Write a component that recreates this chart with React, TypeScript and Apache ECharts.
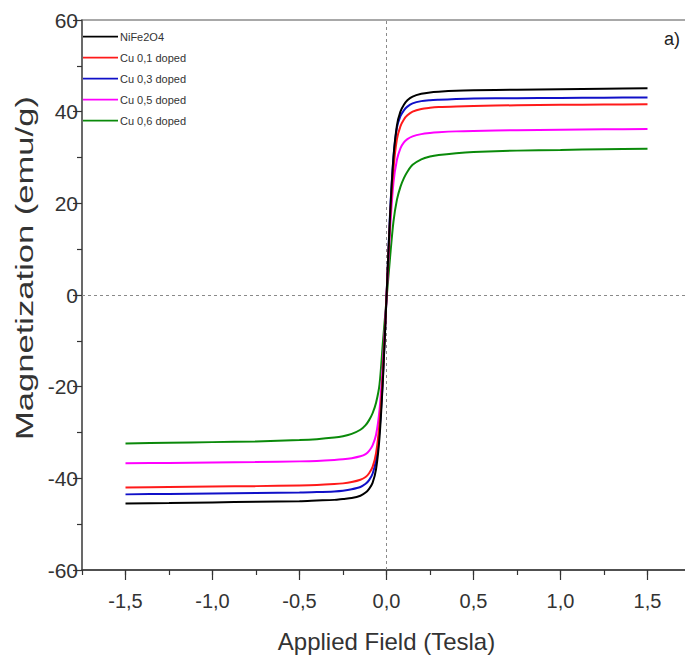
import React, { useEffect, useRef } from "react";
import * as echarts from "echarts";

const fields = [-1.5, -1.25, -1.0, -0.75, -0.5, -0.4, -0.3, -0.25, -0.2, -0.15, -0.12, -0.1, -0.08, -0.06, -0.04, -0.02, 0, 0.02, 0.04, 0.06, 0.08, 0.1, 0.12, 0.15, 0.2, 0.25, 0.3, 0.4, 0.5, 0.75, 1.0, 1.25, 1.5];

const seriesNames = ["NiFe2O4", "Cu 0,1 doped", "Cu 0,3 doped", "Cu 0,5 doped", "Cu 0,6 doped"];
const seriesColors = ["#000000", "#ff1a1a", "#1010c8", "#ff00ff", "#0a8a0a"];

const niFe2O4 = [-45.5, -45.4, -45.25, -45.1, -45.0, -44.85, -44.7, -44.5, -44.3, -43.8, -43.1, -42.3, -41.0, -38.0, -31.0, -18.0, -0.5, 17.0, 30.0, 37.0, 40.0, 41.5, 42.5, 43.3, 43.9, 44.2, 44.35, 44.55, 44.65, 44.8, 44.9, 45.0, 45.1];
const cu01 = [-42.0, -41.9, -41.8, -41.7, -41.55, -41.45, -41.25, -41.1, -40.8, -40.3, -39.7, -38.9, -37.5, -34.5, -28.0, -16.5, -0.5, 16.0, 27.5, 34.0, 36.8, 38.3, 39.2, 40.0, 40.6, 40.85, 41.0, 41.15, 41.25, 41.4, 41.5, 41.55, 41.6];
const cu03 = [-43.5, -43.4, -43.3, -43.2, -43.1, -43.0, -42.85, -42.7, -42.4, -41.9, -41.2, -40.4, -39.0, -36.0, -29.5, -17.5, -0.5, 17.5, 30.0, 36.5, 39.0, 40.3, 41.1, 41.8, 42.3, 42.5, 42.6, 42.75, 42.85, 42.95, 43.0, 43.05, 43.1];
const cu05 = [-36.7, -36.65, -36.55, -36.45, -36.3, -36.2, -36.0, -35.85, -35.6, -35.2, -34.7, -34.0, -32.8, -30.5, -25.0, -14.5, -0.5, 14.0, 24.5, 29.5, 32.0, 33.3, 34.0, 34.6, 35.1, 35.35, 35.5, 35.7, 35.8, 35.95, 36.05, 36.15, 36.2];
const cu06 = [-32.4, -32.25, -32.1, -31.95, -31.65, -31.45, -31.1, -30.8, -30.3, -29.4, -28.4, -27.3, -25.8, -23.5, -19.5, -10.0, -1.0, 8.0, 16.0, 20.8, 23.6, 25.5, 26.9, 28.4, 29.6, 30.2, 30.55, 30.95, 31.2, 31.5, 31.65, 31.8, 31.9];

const seriesValues = [niFe2O4, cu01, cu03, cu05, cu06];

const xMajorTicks = [-1.5, -1.0, -0.5, 0, 0.5, 1.0, 1.5];
const yTicks = [-60, -40, -20, 0, 20, 40, 60];

const FONT = "Arial, 'Liberation Sans', sans-serif";

export default function App() {
  const ref = useRef<HTMLDivElement>(null);
  useEffect(() => {
    if (!ref.current) return;
    const chart = echarts.init(ref.current, null, { renderer: "svg" });
    const series: any[] = seriesNames.map((name, i) => ({
      name,
      type: "line",
      xAxisIndex: 0,
      yAxisIndex: 0,
      data: fields.map((f, j) => [f, seriesValues[i][j]]),
      symbol: "none",
      smooth: 0.3,
      lineStyle: { color: seriesColors[i], width: 2 },
      itemStyle: { color: seriesColors[i] },
      z: 5 - i,
    }));
    series[0].markLine = {
      silent: true,
      symbol: "none",
      label: { show: false },
      lineStyle: { color: "#8a8a8a", type: [3, 3], width: 1 },
      data: [{ xAxis: 0 }, { yAxis: 0 }],
      z: 1,
    };
    chart.setOption({
      animation: false,
      backgroundColor: "#ffffff",
      grid: {
        left: 82,
        top: 20,
        width: 609,
        height: 550,
        outerBoundsMode: "none",
        containLabel: false,
        show: true,
        borderColor: "#8c8c8c",
        borderWidth: 1.5,
        backgroundColor: "transparent",
      },
      legend: {
        left: 83,
        top: 31,
        padding: 0,
        orient: "vertical",
        icon: "path://M0,0H40V2H0Z",
        itemWidth: 35,
        itemHeight: 14,
        itemGap: 10,
        lineStyle: { width: 2 },
        textStyle: { fontFamily: FONT, fontSize: 11, color: "#333", padding: [0, 0, 0, -3] },
        data: seriesNames,
      },
      xAxis: [
        {
          type: "value",
          min: -1.75,
          max: 1.75,
          interval: 0.25,
          position: "bottom",
          axisLine: { show: true, onZero: false, lineStyle: { color: "#333", width: 1.5 } },
          axisTick: { show: true, length: 5, lineStyle: { color: "#333", width: 1.2 } },
          axisLabel: {
            fontFamily: FONT,
            fontSize: 20,
            color: "#333",
            margin: 21,
            formatter: (v: number) =>
              xMajorTicks.some((t) => Math.abs(t - v) < 1e-6) ? v.toFixed(1).replace(".", ",") : "",
          },
          splitLine: { show: false },
          name: "Applied Field (Tesla)",
          nameLocation: "middle",
          nameGap: 59,
          nameTextStyle: { fontFamily: FONT, fontSize: 24, color: "#333" },
        },
        {
          type: "value",
          min: -1.75,
          max: 1.75,
          position: "bottom",
          axisLine: { show: false, onZero: false },
          axisTick: { show: true, length: 10, customValues: xMajorTicks, lineStyle: { color: "#333", width: 1.2 } },
          axisLabel: { show: false },
          splitLine: { show: false },
        },
      ],
      yAxis: {
        type: "value",
        min: -60,
        max: 60,
        interval: 20,
        axisLine: { show: true, onZero: false, lineStyle: { color: "#555", width: 1.5 } },
        axisTick: { show: true, length: 9, lineStyle: { color: "#333", width: 1.2 } },
        minorTick: { show: true, splitNumber: 2, length: 5, lineStyle: { color: "#333", width: 1.2 } },
        axisLabel: {
          fontFamily: FONT,
          fontSize: 21,
          color: "#333",
          margin: 4,
          customValues: yTicks,
        },
        splitLine: { show: false },
      },
      graphic: [
        {
          type: "text",
          x: 25,
          y: 268,
          rotation: Math.PI / 2,
          scaleX: 1.44,
          style: {
            text: "Magnetization (emu/g)",
            font: `24px ${FONT}`,
            fill: "#333",
            align: "center",
            verticalAlign: "middle",
          },
        },
        {
          type: "text",
          left: 664,
          top: 30,
          style: { text: "a)", font: `18px ${FONT}`, fill: "#222" },
        },
      ],
      series,
    });
    return () => chart.dispose();
  }, []);
  return (
    <div
      ref={ref}
      style={{ position: "fixed", left: 0, top: 0, width: 685, height: 663, background: "#fff" }}
    />
  );
}
